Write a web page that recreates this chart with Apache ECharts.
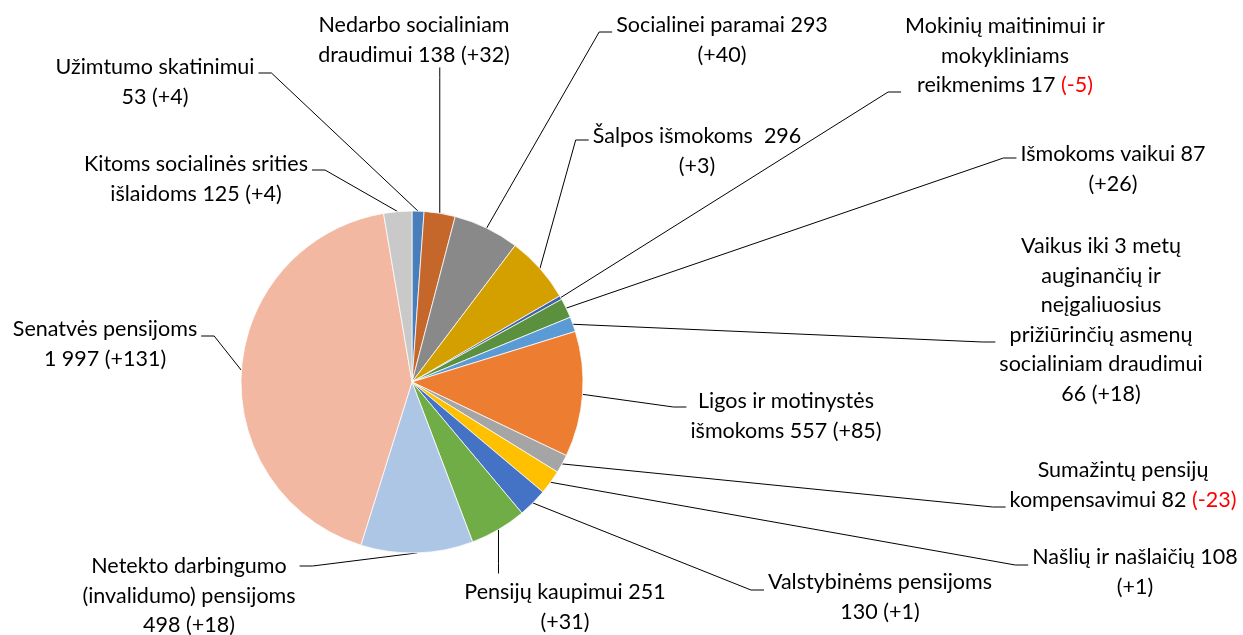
<!DOCTYPE html>
<html>
<head>
<meta charset="utf-8">
<script src="https://cdn.jsdelivr.net/npm/echarts@6/dist/echarts.min.js"></script>
<style>
  html, body { margin: 0; padding: 0; background: #fff; }
  #chart { width: 1243px; height: 635px; }
</style>
</head>
<body>
<div id="chart"></div>
<script>
// categories (clockwise from 12 o'clock)
const categories = [
  'Užimtumo skatinimui',
  'Nedarbo socialiniam\ndraudimui',
  'Socialinei paramai',
  'Šalpos išmokoms ',
  'Mokinių maitinimui ir\nmokykliniams\nreikmenims',
  'Išmokoms vaikui',
  'Vaikus iki 3 metų\nauginančių ir\nneįgaliuosius\nprižiūrinčių asmenų\nsocialiniam draudimui',
  'Ligos ir motinystės\nišmokoms',
  'Sumažintų pensijų\nkompensavimui',
  'Našlių ir našlaičių',
  'Valstybinėms pensijoms',
  'Pensijų kaupimui',
  'Netekto darbingumo\n(invalidumo) pensijoms',
  'Senatvės pensijoms',
  'Kitoms socialinės srities\nišlaidoms'
]
const values = [53, 138, 293, 296, 17, 87, 66, 557, 82, 108, 130, 251, 498, 1997, 125]
const changes = [4, 32, 40, 3, -5, 26, 18, 85, -23, 1, 1, 31, 18, 131, 4]

// where the label text wraps: before the value, before the change, or not at all
const wrapAt = ['value', 'none', 'change', 'change', 'none', 'change', 'value', 'none', 'none', 'change', 'value', 'change', 'value', 'value', 'none']

// label block centres
const labelPos = [
  [155, 82], [414, 40], [722, 40], [697, 151], [1005, 56],
  [1113, 169], [1101, 320], [786, 416], [1123, 485], [1135, 572],
  [880, 597], [565, 607], [189, 596], [105, 344], [196, 179]
]
// which side of the label the leader line meets, and at what height
const lineSide = [
  ['right', 73], ['bottom'], ['left', 32], ['left', 140], ['left', 92],
  ['left', 158], ['left', 342], ['left', 407], ['left', 507], ['left', 565],
  ['left', 590], ['top'], ['right', 566], ['right', 336], ['right', 170]
]

const colors = [
  '#4A7EBB', '#C5662A', '#898989', '#D4A000', '#3D62AE',
  '#5A903E', '#5B9BD5', '#ED7D31', '#A5A5A5', '#FFC000',
  '#4472C4', '#70AD47', '#AEC6E5', '#F3B8A2', '#C9C9C9'
]

const fmtNum = v => String(v).replace(/\B(?=(\d{3})+(?!\d))/g, ' ')

const chart = echarts.init(document.getElementById('chart'), null, { renderer: 'canvas' })

const font = { fontFamily: 'Lato', fontSize: 21.5, lineHeight: 29.5, color: '#000' }

const option = {
  backgroundColor: '#fff',
  animation: false,
  color: colors,
  series: [
    {
      type: 'pie',
      center: [412, 382],
      radius: 171,
      startAngle: 90,
      clockwise: true,
      avoidLabelOverlap: false,
      itemStyle: { borderColor: '#fff', borderWidth: 0.75 },
      label: {
        show: true,
        position: 'outside',
        align: 'center',
        ...font,
        formatter: p => {
          const i = p.dataIndex
          const c = changes[i]
          const ch = c < 0 ? '{neg|(' + c + ')}' : '(+' + c + ')'
          const s1 = wrapAt[i] === 'value' ? '\n' : ' '
          const s2 = wrapAt[i] === 'change' ? '\n' : ' '
          return categories[i] + s1 + fmtNum(values[i]) + s2 + ch
        },
        rich: {
          neg: { ...font, color: '#FF0000' }
        }
      },
      labelLine: {
        show: true,
        length: 10,
        length2: 12,
        lineStyle: { color: '#000', width: 1 }
      },
      labelLayout: params => {
        const i = params.dataIndex
        const [x, y] = labelPos[i]
        const w = params.labelRect.width
        const h = params.labelRect.height
        // arc midpoint of the slice, as laid out by the pie
        const p0 = params.labelLinePoints[0]
        const side = lineSide[i]
        let end, elbow
        if (side[0] === 'left') {
          end = [x - w / 2 - 4, side[1]]
          elbow = [end[0] - 13, side[1]]
        } else if (side[0] === 'right') {
          end = [x + w / 2 + 4, side[1]]
          elbow = [end[0] + 13, side[1]]
        } else if (side[0] === 'top') {
          end = [p0[0], y - h / 2 - 4]
          elbow = [p0[0], end[1] - 10]
        } else {
          end = [p0[0], y + h / 2 - 2]
          elbow = [p0[0], end[1] + 10]
        }
        return {
          x: x, y: y, align: 'center', verticalAlign: 'middle',
          labelLinePoints: [p0, elbow, end]
        }
      },
      emphasis: { disabled: true },
      data: categories.map((name, i) => ({ name: name, value: values[i] }))
    }
  ]
}

chart.setOption(option)
</script>
</body>
</html>
